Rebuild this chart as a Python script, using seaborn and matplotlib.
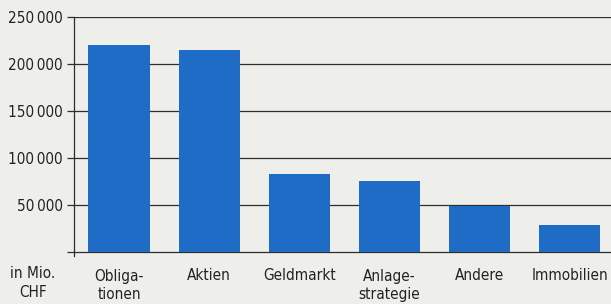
import numpy as np
import pandas as pd
import matplotlib
matplotlib.use('Agg')
import matplotlib.pyplot as plt
import seaborn as sns

categories = ['Obliga-\ntionen', 'Aktien', 'Geldmarkt', 'Anlage-\nstrategie', 'Andere', 'Immobilien']
values = [220000, 215000, 83000, 76000, 49000, 29000]
yticks = [0, 50000, 100000, 150000, 200000, 250000]

bg = '#EEEEEA'
bar_color = '#1F6CC6'
line_color = '#2E2E2E'

sns.set_style('white')
plt.rcParams['font.family'] = ['DejaVu Sans']
plt.rcParams['font.stretch'] = 'condensed'

fig = plt.figure(figsize=(6.11, 3.04), dpi=100, facecolor=bg)
ax = fig.add_axes([74 / 611, 48 / 304, 1 - 74 / 611, (256 - 17) / 304])
ax.set_facecolor(bg)

df = pd.DataFrame({'cat': categories, 'val': values})
sns.barplot(data=df, x='cat', y='val', color=bar_color, width=0.68, saturation=1,
            edgecolor='none', linewidth=0, ax=ax, zorder=3)

ax.set_ylim(-4000, 250000)
ax.set_xlim(-0.5, 5.46)
ax.set_yticks(yticks)
ax.set_yticklabels(['' if v == 0 else f'{v:,}'.replace(',', '\u2009') for v in yticks],
                   fontsize=11, color='#222222')
ax.yaxis.grid(True, color=line_color, linewidth=0.9, zorder=1)
ax.set_axisbelow(True)

for s in ['top', 'right', 'bottom']:
    ax.spines[s].set_visible(False)
ax.spines['left'].set_color(line_color)
ax.spines['left'].set_linewidth(0.9)

ax.tick_params(axis='y', length=5, width=0.9, color=line_color, pad=3, left=True)
ax.tick_params(axis='x', length=0, pad=9, labelsize=11, labelcolor='#222222')
ax.set_xlabel('')
ax.set_ylabel('')
for lbl in ax.get_xticklabels():
    lbl.set_verticalalignment('top')
    lbl.set_linespacing(1.3)

fig.text(33 / 611, 1 - 266 / 304, 'in Mio.\nCHF', ha='center', va='top', fontsize=11,
         color='#222222', linespacing=1.3)

fig.savefig('out.png', dpi=100, facecolor=bg)
